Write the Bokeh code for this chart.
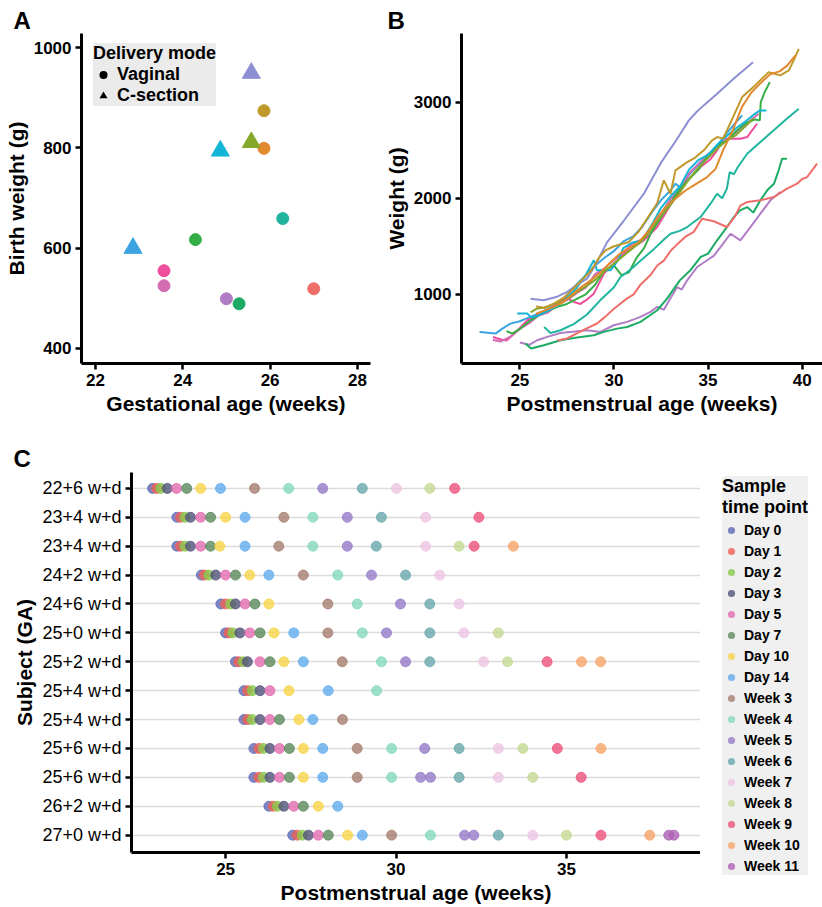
from bokeh.plotting import figure
from bokeh.layouts import column, row
from bokeh.models import Range1d, FixedTicker, Legend, LegendItem, ColumnDataSource
from bokeh.embed import file_html
from bokeh.resources import INLINE

FONT = "Liberation Sans"

# ---------------- Panel A data ----------------
subject_ga = ["22+6", "23+4", "23+4", "24+2", "24+6", "25+0", "25+2",
              "25+4", "25+4", "25+6", "25+6", "26+2", "27+0"]
ga_weeks = [22.86, 23.57, 23.57, 24.29, 24.86, 25.0, 25.29, 25.57, 25.57, 25.86, 25.86, 26.29, 27.0]
birth_weight = [600, 555, 525, 617, 794, 499, 489, 949, 811, 874, 799, 659, 519]
delivery = ["C-section", "Vaginal", "Vaginal", "Vaginal", "C-section", "Vaginal", "Vaginal",
            "C-section", "C-section", "Vaginal", "Vaginal", "Vaginal", "Vaginal"]
subject_colors = ["#3AA3E0", "#EE4E9B", "#D36DB3", "#36AE47", "#12B5D6", "#B17CC6", "#1DAA64",
                  "#8C90D2", "#84A82A", "#C0992B", "#E2892E", "#21B59D", "#EF6E69"]

# ---------------- Panel B data (postmenstrual age, weight) ----------------
pma_s1 = [22.86, 23.3, 23.71, 24.07, 24.5, 25.0, 25.5, 26.0, 26.5, 27.0, 27.5, 28.0, 28.5, 29.0, 29.5, 30.0, 30.5, 31.0, 31.5, 32.0, 32.5, 33.0, 33.27, 33.6, 34.0, 34.5, 35.0, 35.5, 36.0, 36.4, 36.81]
wt_s1 = [608, 600, 591, 643, 695, 720, 760, 800, 850, 900, 980, 1100, 1200, 1300, 1380, 1450, 1550, 1600, 1700, 1850, 1980, 2080, 2151, 2100, 2250, 2350, 2420, 2550, 2680, 2770, 2862]
pma_s2 = [23.57, 24.0, 24.3, 24.7, 25.0, 25.4, 26.0, 26.5, 27.16, 27.5, 27.87, 28.22, 28.6, 28.93, 29.47, 30.17, 30.7, 31.1, 31.59, 32.3, 32.83, 33.36, 33.89, 34.6, 35.1, 35.48, 35.83, 36.3, 36.72, 37.08, 37.6]
wt_s2 = [555, 530, 520, 590, 650, 730, 790, 830, 938, 960, 920, 900, 950, 1007, 1215, 1354, 1458, 1500, 1561, 1700, 1874, 2047, 2186, 2324, 2400, 2498, 2618, 2620, 2618, 2636, 2775]
pma_s3 = [23.57, 24.0, 24.5, 25.0, 25.5, 26.0, 26.5, 27.0, 27.5, 28.0, 28.5, 29.0, 29.5, 30.0, 30.5, 31.0, 31.5, 32.0, 32.5, 33.0, 33.5, 34.0, 34.5, 35.0, 35.5, 36.0, 36.5, 37.0, 37.69]
wt_s3 = [525, 510, 560, 640, 700, 780, 810, 890, 940, 1010, 1070, 1210, 1270, 1360, 1440, 1530, 1570, 1710, 1840, 1990, 2090, 2260, 2360, 2460, 2520, 2610, 2690, 2770, 2879]
pma_s4 = [24.29, 24.6, 25.0, 25.5, 26.0, 26.5, 27.0, 27.5, 28.0, 28.5, 29.0, 29.5, 30.0, 30.4, 30.8, 31.2, 31.6, 32.0, 32.5, 33.0, 33.5, 34.0, 34.5, 35.0, 35.5, 36.0, 36.5, 37.0, 37.5, 37.75, 37.8, 38.0, 38.28]
wt_s4 = [617, 590, 640, 720, 780, 830, 870, 900, 950, 1000, 1100, 1250, 1300, 1200, 1230, 1380, 1480, 1650, 1800, 1950, 2100, 2200, 2300, 2450, 2550, 2600, 2700, 2780, 2820, 2810, 3000, 3100, 3208]
pma_s5 = [24.86, 25.39, 25.6, 26.0, 26.5, 27.0, 27.5, 28.0, 28.5, 28.93, 29.1, 29.83, 30.2, 30.5, 31.0, 31.5, 32.0, 32.5, 33.0, 33.5, 34.0, 34.5, 35.0, 35.5, 36.0, 36.5, 37.0, 37.5, 37.75, 38.1]
wt_s5 = [800, 800, 760, 780, 830, 880, 960, 1060, 1200, 1354, 1250, 1250, 1350, 1480, 1540, 1560, 1720, 1900, 2020, 2120, 2300, 2400, 2450, 2560, 2650, 2730, 2800, 2880, 2913, 2913]
pma_s6 = [25.0, 25.5, 25.92, 26.5, 27.16, 27.8, 28.57, 29.28, 29.99, 30.7, 31.41, 31.94, 32.3, 32.65, 33.0, 33.36, 33.6, 33.89, 34.42, 34.95, 35.3, 35.66, 36.19, 36.72, 37.25, 37.78, 38.31, 38.84]
wt_s6 = [499, 475, 522, 560, 598, 610, 626, 609, 678, 713, 765, 817, 870, 840, 960, 1076, 1050, 1146, 1284, 1354, 1400, 1492, 1630, 1562, 1700, 1839, 1978, 2064]
pma_s7 = [25.29, 25.6, 26.27, 27.16, 28.04, 28.93, 29.46, 30.17, 30.7, 31.41, 31.9, 32.3, 32.8, 33.5, 34.06, 34.6, 35.0, 35.48, 36.0, 36.37, 36.7, 37.08, 37.4, 37.78, 38.14, 38.5, 38.75, 38.93, 39.19]
wt_s7 = [489, 436, 470, 522, 550, 574, 609, 643, 660, 713, 780, 834, 950, 1145, 1250, 1388, 1423, 1562, 1700, 1804, 1873, 1908, 1850, 1978, 2082, 2150, 2290, 2411, 2411]
pma_s8 = [25.57, 26.27, 26.98, 27.52, 28.0, 28.57, 29.0, 29.64, 30.5, 31.59, 32.5, 33.3, 33.98, 34.4, 34.77, 35.48, 36.4, 37.39]
wt_s8 = [955, 938, 975, 1025, 1094, 1163, 1300, 1544, 1760, 2047, 2370, 2600, 2810, 2900, 2966, 3087, 3250, 3416]
pma_s9 = [25.57, 25.9, 26.3, 26.8, 27.2, 27.6, 28.0, 28.5, 29.0, 29.5, 30.0, 30.5, 31.0, 31.5, 32.0, 32.5, 33.0, 33.5, 34.0, 34.5, 35.0, 35.5, 36.0, 36.5, 37.0, 37.4]
wt_s9 = [811, 851, 860, 900, 920, 960, 1020, 1080, 1150, 1240, 1320, 1400, 1480, 1560, 1680, 1810, 1930, 2060, 2200, 2320, 2420, 2520, 2600, 2660, 2750, 2830]
pma_s10 = [25.86, 26.3, 26.8, 27.3, 27.8, 28.3, 28.8, 29.2, 29.55, 30.0, 30.79, 31.3, 31.8, 32.3, 32.65, 33.0, 33.27, 33.89, 34.3, 34.77, 35.2, 35.48, 35.8, 36.37, 36.81, 37.5, 38.22, 38.84, 39.29, 39.55, 39.82]
wt_s10 = [874, 860, 900, 960, 1050, 1150, 1250, 1380, 1458, 1500, 1544, 1650, 1800, 1950, 2186, 2047, 2290, 2376, 2420, 2498, 2600, 2636, 2620, 2862, 3052, 3174, 3312, 3278, 3330, 3434, 3555]
pma_s11 = [25.86, 26.3, 26.8, 27.3, 27.8, 28.3, 28.8, 29.3, 29.8, 30.3, 30.8, 31.3, 31.8, 32.3, 32.8, 33.3, 33.8, 34.24, 34.95, 35.4, 35.8, 36.3, 36.8, 37.3, 37.8, 38.3, 38.8, 39.2, 39.64]
wt_s11 = [799, 830, 870, 920, 1000, 1080, 1150, 1230, 1330, 1420, 1480, 1540, 1650, 1800, 1920, 2000, 2080, 2134, 2220, 2305, 2500, 2700, 2950, 3100, 3200, 3290, 3320, 3380, 3486]
pma_s12 = [26.29, 26.63, 27.16, 27.86, 28.57, 29.28, 29.99, 30.35, 30.9, 31.41, 32.12, 32.6, 33.0, 33.5, 33.89, 34.6, 35.13, 35.48, 35.75, 36.0, 36.15, 36.37, 36.6, 37.08, 37.78, 38.49, 39.2, 39.82]
wt_s12 = [659, 598, 626, 690, 790, 940, 1070, 1180, 1260, 1350, 1470, 1560, 1630, 1660, 1700, 1804, 1943, 2047, 2000, 2099, 2270, 2250, 2330, 2463, 2584, 2706, 2830, 2931]
pma_s13 = [27.0, 27.5, 28.0, 28.5, 29.1, 29.5, 30.0, 30.68, 31.05, 31.41, 31.94, 32.3, 32.65, 33.0, 33.36, 33.8, 34.24, 34.68, 35.3, 36.0, 36.4, 36.72, 37.08, 37.78, 38.49, 39.2, 39.73, 40.0, 40.26, 40.79]
wt_s13 = [519, 540, 590, 640, 696, 760, 850, 955, 1000, 1100, 1200, 1300, 1350, 1450, 1520, 1600, 1650, 1787, 1760, 1700, 1800, 1925, 1960, 1978, 2012, 2099, 2151, 2200, 2220, 2359]

growth_pma = [pma_s1, pma_s2, pma_s3, pma_s4, pma_s5, pma_s6, pma_s7, pma_s8, pma_s9, pma_s10, pma_s11, pma_s12, pma_s13]
growth_wt = [wt_s1, wt_s2, wt_s3, wt_s4, wt_s5, wt_s6, wt_s7, wt_s8, wt_s9, wt_s10, wt_s11, wt_s12, wt_s13]

# ---------------- Panel C data ----------------
tp_names = ["Day 0", "Day 1", "Day 2", "Day 3", "Day 5", "Day 7", "Day 10", "Day 14",
            "Week 3", "Week 4", "Week 5", "Week 6", "Week 7", "Week 8", "Week 9", "Week 10", "Week 11"]
tp_colors = ["#5F69B5", "#F05F55", "#86CB4A", "#52527A", "#E26BAF", "#5A8A5C", "#F8D548", "#63ADEE",
             "#A67E70", "#84D8BE", "#967CC8", "#69A8AC", "#EDC5E4", "#C5DA94", "#EE527C", "#F8A56A", "#AE62B6"]

D = ["Day 0", "Day 1", "Day 2", "Day 3", "Day 5", "Day 7", "Day 10", "Day 14"]
c_pma = [
    [22.86, 22.98, 23.1, 23.29, 23.56, 23.86, 24.27, 24.85, 25.85, 26.85, 27.85, 29.01, 30.01, 30.99, 31.72],
    [23.57, 23.68, 23.81, 23.97, 24.27, 24.56, 25.0, 25.57, 26.71, 27.56, 28.57, 29.57, 30.87, 32.43],
    [23.57, 23.68, 23.81, 23.97, 24.27, 24.56, 24.83, 25.57, 26.56, 27.56, 28.57, 29.42, 30.87, 31.85, 32.29, 33.44],
    [24.29, 24.38, 24.51, 24.71, 25.0, 25.29, 25.71, 26.27, 27.28, 28.29, 29.28, 30.28, 31.28],
    [24.86, 25.0, 25.15, 25.29, 25.57, 25.86, 26.27, 28.0, 28.86, 30.13, 30.99, 31.85],
    [25.0, 25.1, 25.21, 25.42, 25.71, 26.01, 26.42, 27.0, 28.0, 29.01, 29.72, 30.99, 31.99, 33.0],
    [25.29, 25.39, 25.52, 25.64, 26.01, 26.3, 26.71, 27.28, 28.42, 29.57, 30.28, 30.99, 32.57, 33.27, 34.43, 35.44, 36.0],
    [25.54, 25.65, 25.78, 26.01, 26.3, 26.86, 28.01, 29.43],
    [25.54, 25.65, 25.78, 26.01, 26.3, 26.58, 27.15, 27.56, 28.43],
    [25.83, 25.98, 26.11, 26.3, 26.58, 26.87, 27.28, 27.85, 28.86, 29.87, 30.84, 31.85, 33.0, 33.72, 34.73, 36.01],
    [25.83, 25.98, 26.11, 26.3, 26.58, 26.87, 27.28, 27.85, 28.86, 29.87, 30.72, 31.01, 31.85, 33.0, 34.01, 35.43],
    [26.27, 26.4, 26.52, 26.71, 27.0, 27.28, 27.72, 28.29],
    [26.97, 27.1, 27.25, 27.43, 27.72, 28.01, 28.58, 29.01, 29.87, 31.01, 32.01, 32.28, 33.0, 34.01, 35.0, 36.01, 37.44, 38.0, 38.15],
]
c_tp = [
    D + ["Week 3", "Week 4", "Week 5", "Week 6", "Week 7", "Week 8", "Week 9"],
    D + ["Week 3", "Week 4", "Week 5", "Week 6", "Week 7", "Week 9"],
    D + ["Week 3", "Week 4", "Week 5", "Week 6", "Week 7", "Week 8", "Week 9", "Week 10"],
    D + ["Week 3", "Week 4", "Week 5", "Week 6", "Week 7"],
    ["Day 0", "Day 1", "Day 2", "Day 3", "Day 5", "Day 7", "Day 10", "Week 3", "Week 4", "Week 5", "Week 6", "Week 7"],
    D + ["Week 3", "Week 4", "Week 5", "Week 6", "Week 7", "Week 8"],
    D + ["Week 3", "Week 4", "Week 5", "Week 6", "Week 7", "Week 8", "Week 9", "Week 10", "Week 10"],
    ["Day 0", "Day 1", "Day 2", "Day 3", "Day 5", "Day 10", "Day 14", "Week 4"],
    D + ["Week 3"],
    D + ["Week 3", "Week 4", "Week 5", "Week 6", "Week 7", "Week 8", "Week 9", "Week 10"],
    D + ["Week 3", "Week 4", "Week 5", "Week 5", "Week 6", "Week 7", "Week 8", "Week 9"],
    D,
    D + ["Week 3", "Week 4", "Week 5", "Week 5", "Week 6", "Week 7", "Week 8", "Week 9", "Week 10", "Week 11", "Week 11"],
]


def style_axes(p):
    for ax in (p.xaxis[0], p.yaxis[0]):
        ax.axis_line_width = 3
        ax.axis_line_color = "black"
        ax.major_tick_line_width = 2.5
        ax.major_tick_line_color = "black"
        ax.major_tick_out = 6
        ax.major_tick_in = 0
        ax.minor_tick_line_color = None
        ax.major_label_standoff = 4
        ax.axis_label_standoff = 3
        ax.major_label_text_font = FONT
        ax.major_label_text_font_size = "17px"
        ax.major_label_text_font_style = "bold"
        ax.major_label_text_color = "black"
        ax.axis_label_text_font = FONT
        ax.axis_label_text_font_size = "21px"
        ax.axis_label_text_font_style = "bold"
        ax.axis_label_text_color = "black"
    p.xgrid.grid_line_color = None
    p.ygrid.grid_line_color = None
    p.outline_line_color = None
    p.background_fill_color = "white"
    p.border_fill_color = "white"
    p.frame_align = False


def style_title(p, offset, standoff):
    p.title.align = "left"
    p.title.offset = offset
    p.title.standoff = standoff
    p.title.text_font = FONT
    p.title.text_font_size = "24px"
    p.title.text_font_style = "bold"
    p.title.text_color = "black"


# ---------------- Panel A ----------------
pA = figure(width=380, height=420, title="A", x_range=Range1d(21.68, 28.3), y_range=Range1d(370, 1028),
            output_backend="svg", toolbar_location=None,
            min_border_left=81, min_border_right=10, min_border_top=33, min_border_bottom=57)
style_axes(pA)
style_title(pA, -68, 0)
pA.xaxis.ticker = FixedTicker(ticks=[22, 24, 26, 28])
pA.yaxis.ticker = FixedTicker(ticks=[400, 600, 800, 1000])
pA.xaxis.axis_label = "Gestational age (weeks)"
pA.yaxis.axis_label = "Birth weight (g)"

vag = [i for i, d in enumerate(delivery) if d == "Vaginal"]
csec = [i for i, d in enumerate(delivery) if d == "C-section"]
srcV = ColumnDataSource(dict(x=[ga_weeks[i] for i in vag], y=[birth_weight[i] for i in vag],
                             c=[subject_colors[i] for i in vag]))
srcC = ColumnDataSource(dict(x=[ga_weeks[i] for i in csec], y=[birth_weight[i] for i in csec],
                             c=[subject_colors[i] for i in csec]))
pA.scatter("x", "y", source=srcV, marker="circle", size=12, fill_color="c", line_color="c")
pA.scatter("x", "y", source=srcC, marker="triangle", size=18, fill_color="c", line_color="c")
# black key glyphs for the shape legend (zero-size on the plot itself)
rV = pA.scatter("x", "y", source=srcV, marker="circle", size=0, fill_color="black", line_color=None)
rC = pA.scatter("x", "y", source=srcC, marker="triangle", size=0, fill_color="black", line_color=None)
legA = Legend(items=[LegendItem(label="Vaginal", renderers=[rV]), LegendItem(label="C-section", renderers=[rC])],
              title="Delivery mode", location=(12, 257), padding=8, spacing=-6,
              glyph_width=20, glyph_height=21, label_height=19, label_standoff=4, title_standoff=0,
              background_fill_color="#EBEBEB", background_fill_alpha=1.0, border_line_color=None,
              title_text_font=FONT, title_text_font_size="18px", title_text_font_style="bold",
              label_text_font=FONT, label_text_font_size="18px", label_text_font_style="bold",
              title_text_color="black", label_text_color="black")
pA.add_layout(legA)

# ---------------- Panel B ----------------
pB = figure(width=442, height=420, title="B", x_range=Range1d(21.9, 41.08), y_range=Range1d(280, 3714),
            output_backend="svg", toolbar_location=None,
            min_border_left=81, min_border_right=0, min_border_top=33, min_border_bottom=57)
style_axes(pB)
style_title(pB, -74, 0)
pB.xaxis.ticker = FixedTicker(ticks=[25, 30, 35, 40])
pB.yaxis.ticker = FixedTicker(ticks=[1000, 2000, 3000])
pB.xaxis.axis_label = "Postmenstrual age (weeks)"
pB.yaxis.axis_label = "Weight (g)"
for xs, ys, col in zip(growth_pma, growth_wt, subject_colors):
    pB.line(xs, ys, line_color=col, line_width=2)

# ---------------- Panel C ----------------
pC = figure(width=700, height=487, title="C", x_range=Range1d(22.24, 38.93), y_range=Range1d(0.4, 13.55),
            output_backend="svg", toolbar_location=None,
            min_border_left=131, min_border_right=0, min_border_top=52, min_border_bottom=55)
style_axes(pC)
style_title(pC, -118, 2)
pC.xaxis.ticker = FixedTicker(ticks=[25, 30, 35])
nrows = len(subject_ga)
pC.yaxis.ticker = FixedTicker(ticks=list(range(1, nrows + 1)))
pC.yaxis.major_label_overrides = {nrows - i: subject_ga[i] + " w+d" for i in range(nrows)}
pC.yaxis.major_label_text_font_style = "normal"
pC.yaxis.major_label_text_font_size = "18px"
pC.xaxis.axis_label = "Postmenstrual age (weeks)"
pC.yaxis.axis_label = "Subject (GA)"
pC.ygrid.grid_line_color = "#DCDCDC"
pC.ygrid.grid_line_width = 1.3

# legend panel for C (shares the time-point data; key glyphs drawn at zero size)
pL = figure(width=122, height=487, x_axis_type=None, y_axis_type=None,
            x_range=Range1d(0, 1), y_range=Range1d(0, 1),
            output_backend="svg", toolbar_location=None, min_border=0)
pL.outline_line_color = None
pL.background_fill_color = "white"
pL.border_fill_color = "white"
pL.frame_align = False

legend_items = []
for name, col in zip(tp_names, tp_colors):
    xs, ys = [], []
    for i in range(nrows):
        for v, t in zip(c_pma[i], c_tp[i]):
            if t == name:
                xs.append(v)
                ys.append(nrows - i)
    pC.scatter(xs, ys, marker="circle", size=10, fill_color=col, line_color=col,
               fill_alpha=0.8, line_alpha=0.8)
    rk = pL.scatter(xs, ys, marker="circle", size=0, fill_color=col, line_color=None, fill_alpha=0.8)
    legend_items.append(LegendItem(label=name, renderers=[rk]))

legC = Legend(items=legend_items, title="Sample\ntime point", location=(22, 32), margin=0,
              padding=9, spacing=3,
              glyph_width=18, glyph_height=18, label_height=18, label_standoff=4, title_standoff=3,
              background_fill_color="#F0F0F0", background_fill_alpha=1.0, border_line_color=None,
              title_text_font=FONT, title_text_font_size="18px", title_text_font_style="bold",
              label_text_font=FONT, label_text_font_size="14px", label_text_font_style="bold",
              title_text_color="black", label_text_color="black")
pL.add_layout(legC)

layout = column(row(pA, pB), row(pC, pL))
open("out.html", "w").write(file_html(layout, INLINE))
